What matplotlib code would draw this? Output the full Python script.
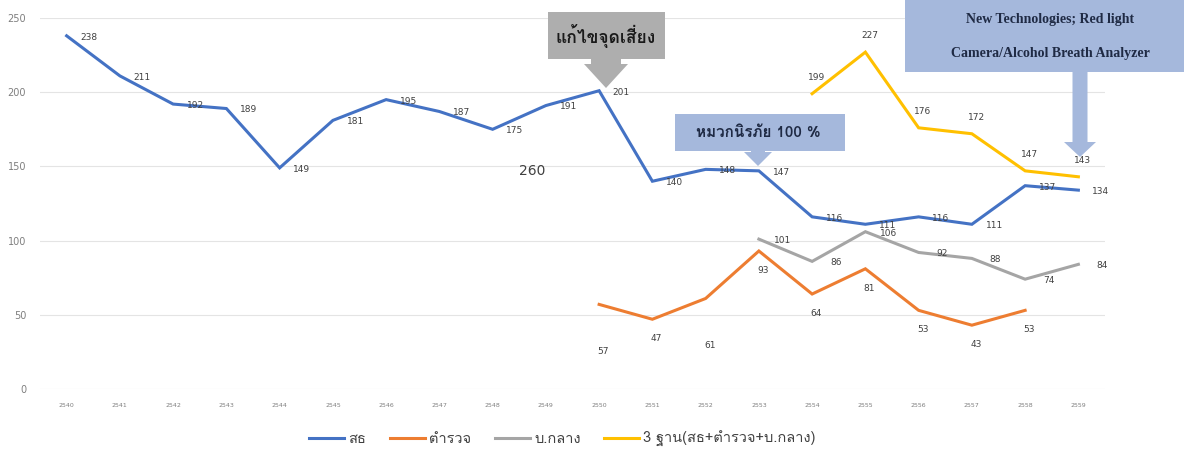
import matplotlib
matplotlib.use("Agg")
import matplotlib.pyplot as plt
from matplotlib.patches import Polygon

# data (Thai Buddhist-era years)
years = list(range(2540, 2560))
moph = [238, 211, 192, 189, 149, 181, 195, 187, 175, 191,
        201, 140, 148, 147, 116, 111, 116, 111, 137, 134]
police_years = list(range(2550, 2559))
police = [57, 47, 61, 93, 64, 81, 53, 43, 53]
bkk_years = list(range(2553, 2560))
bkk = [101, 86, 106, 92, 88, 74, 84]
three_years = list(range(2554, 2560))
three = [199, 227, 176, 172, 147, 143]
labels = ["สธ", "ตำรวจ", "บ.กลาง", "3 ฐาน(สธ+ตำรวจ+บ.กลาง)"]

W, H = 1184, 449
THAI = ["Loma", "Noto Sans Thai Looped", "DejaVu Sans"]
plt.rcParams["font.family"] = ["DejaVu Sans"]

fig = plt.figure(figsize=(W / 100, H / 100), dpi=100)
ax = fig.add_axes([40 / W, 1 - 389 / H, 1065 / W, 371 / H])

series = [
    (years, moph, "#4472C4", (16, -1)),
    (police_years, police, "#ED7D31", (3, -14)),
    (bkk_years, bkk, "#A5A5A5", (17, -1)),
    (three_years, three, "#FFC000", (3, 12)),
]
for (x, y, c, off), lab in zip(series, labels):
    ax.plot(x, y, color=c, lw=2.2, label=lab, solid_joinstyle="miter")
    for xi, yi in zip(x, y):
        dx, dy = off
        # two police labels sit lower in the original
        if c == "#ED7D31" and yi in (57, 61):
            dy = -34
        ax.annotate(str(yi), (xi, yi), xytext=(dx, dy), textcoords="offset points",
                    ha="center", va="center", fontsize=6.5, color="#404040")

ax.set_xlim(2539.5, 2559.5)
ax.set_ylim(0, 250)
ax.set_yticks(range(0, 251, 50))
ax.set_xticks(years)
ax.set_xticklabels([str(y) for y in years], fontsize=4.5, color="#7f7f7f")
ax.tick_params(axis="y", labelsize=7, colors="#7f7f7f", length=0, pad=10)
ax.tick_params(axis="x", length=0, pad=10)
ax.grid(axis="y", color="#E4E4E4", lw=0.8)
for s in ax.spines.values():
    s.set_visible(False)

ax.text(2548.75, 147, "260", fontsize=10, color="#404040", ha="center", va="center")


# callout boxes with arrows, in pixel coords measured from top-left
def fx(px):
    return px / W


def fy(py):
    return 1 - py / H


def callout(x0, y0, x1, y1, cx, shaft_w, shaft_end, head_w, tip, color):
    pts = [(x0, y0), (x1, y0), (x1, y1),
           (cx + shaft_w / 2, y1), (cx + shaft_w / 2, shaft_end),
           (cx + head_w / 2, shaft_end), (cx, tip),
           (cx - head_w / 2, shaft_end), (cx - shaft_w / 2, shaft_end),
           (cx - shaft_w / 2, y1), (x0, y1)]
    fig.patches.append(Polygon([(fx(a), fy(b)) for a, b in pts], closed=True,
                               transform=fig.transFigure, facecolor=color,
                               edgecolor="none", zorder=5))


callout(548, 12, 665, 59, 606, 30, 64, 44, 88, "#AEAEAE")
fig.text(fx(606), fy(36), "แก้ไขจุดเสี่ยง", family=THAI, fontweight="bold",
         fontsize=12.5, color="#1a1a1a", ha="center", va="center", zorder=6)

callout(675, 114, 845, 151, 758, 14, 152, 28, 166, "#A5B8DC")
fig.text(fx(758), fy(133), "หมวกนิรภัย 100 %", family=THAI, fontweight="bold",
         fontsize=11, color="#1f2a44", ha="center", va="center", zorder=6)

callout(905, -5, 1190, 72, 1080, 15, 142, 32, 157, "#A5B8DC")
fig.text(fx(1050), fy(20), "New Technologies; Red light", family="Liberation Serif",
         fontweight="bold", fontsize=10, color="#1f2a44", ha="center", va="center", zorder=6)
fig.text(fx(1050), fy(53), "Camera/Alcohol Breath Analyzer", family="Liberation Serif",
         fontweight="bold", fontsize=10, color="#1f2a44", ha="center", va="center", zorder=6)

leg = fig.legend(loc="lower center", bbox_to_anchor=(0.475, -0.025), ncol=4, frameon=False,
                 handlelength=2.4, columnspacing=1.6, handletextpad=0.3,
                 prop={"family": THAI, "size": 10.5})
for t in leg.get_texts():
    t.set_color("#404040")

fig.savefig("out.png", dpi=100)
